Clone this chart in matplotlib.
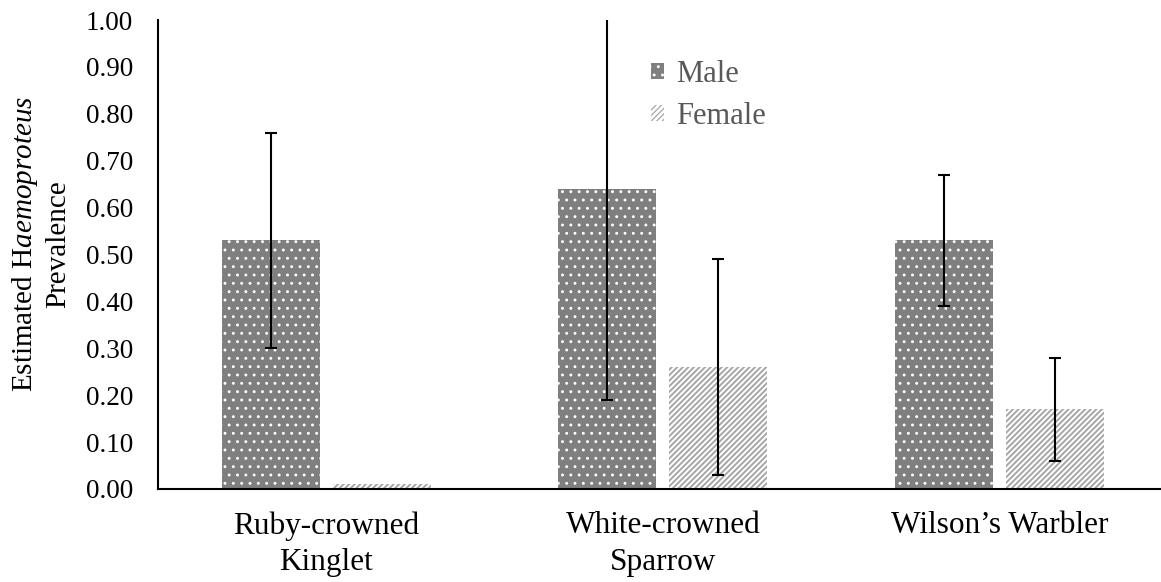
import numpy as np
import matplotlib
matplotlib.use("Agg")
import matplotlib.pyplot as plt

# Estimated Haemoproteus prevalence by species and sex
species = ["Ruby-crowned\nKinglet", "White-crowned\nSparrow", "Wilson\u2019s Warbler"]
male_prev = [0.53, 0.64, 0.53]
male_err = [0.23, 0.45, 0.14]
female_prev = [0.01, 0.26, 0.17]
female_err = [np.nan, 0.23, 0.11]
yticks = [0.0, 0.1, 0.2, 0.3, 0.4, 0.5, 0.6, 0.7, 0.8, 0.9, 1.0]

plt.rcParams["font.family"] = ["Liberation Serif", "DejaVu Serif"]
plt.rcParams["mathtext.fontset"] = "custom"
plt.rcParams["mathtext.rm"] = "Liberation Serif"
plt.rcParams["mathtext.it"] = "Liberation Serif:italic"

W, H = 1161, 582
fig = plt.figure(figsize=(W / 100, H / 100), dpi=100)
ax = fig.add_axes([158 / W, 93 / H, (W - 158) / W, 469 / H])

x = np.arange(len(species))
off = 0.165
width = 0.291

with plt.rc_context({"hatch.linewidth": 0.9}):
    male_bars = ax.bar(x - off, male_prev, width, color="#7f7f7f",
                       edgecolor="white", linewidth=0, hatch="..", label="Male")
with plt.rc_context({"hatch.linewidth": 1.4}):
    female_bars = ax.bar(x + off, female_prev, width, color="white",
                         edgecolor="#a6a6a6", linewidth=0, hatch="//////", label="Female")

err_kw = dict(fmt="none", ecolor="black", elinewidth=1.5, capsize=4.3, capthick=1.5)
ax.errorbar(x - off, male_prev, yerr=male_err, **err_kw)
ax.errorbar(x + off, female_prev, yerr=female_err, **err_kw)

ax.set_ylim(0, 1.0)
ax.set_xlim(-0.5, 2.48)
ax.set_yticks(yticks)
ax.set_yticklabels([f"{v:.2f}" for v in yticks])
ax.set_xticks(x)
ax.set_xticklabels(species, linespacing=1.35)
ax.tick_params(axis="y", length=0, pad=18, labelsize=19.5)
ax.tick_params(axis="x", length=0, pad=16, labelsize=22.5)

for side in ("top", "right"):
    ax.spines[side].set_visible(False)
for side in ("left", "bottom"):
    ax.spines[side].set_linewidth(1.5)
    ax.spines[side].set_color("black")

fig.text(41 / W, 1 - 244 / H,
         "Estimated H$\\mathit{aemoproteus}$\nPrevalence",
         rotation=90, ha="center", va="center", multialignment="center",
         fontsize=21, linespacing=1.25)

with plt.rc_context({"hatch.linewidth": 0.9}):
    ax.legend(handles=[male_bars, female_bars], loc="upper left",
              bbox_to_anchor=(651 / W, 1 - 60 / H), bbox_transform=fig.transFigure,
              frameon=False, fontsize=22, handlelength=0.42, handleheight=0.42,
              handletextpad=0.4, labelspacing=0.42, borderpad=0, borderaxespad=0,
              labelcolor="#595959")

fig.savefig("out.png", dpi=100)
